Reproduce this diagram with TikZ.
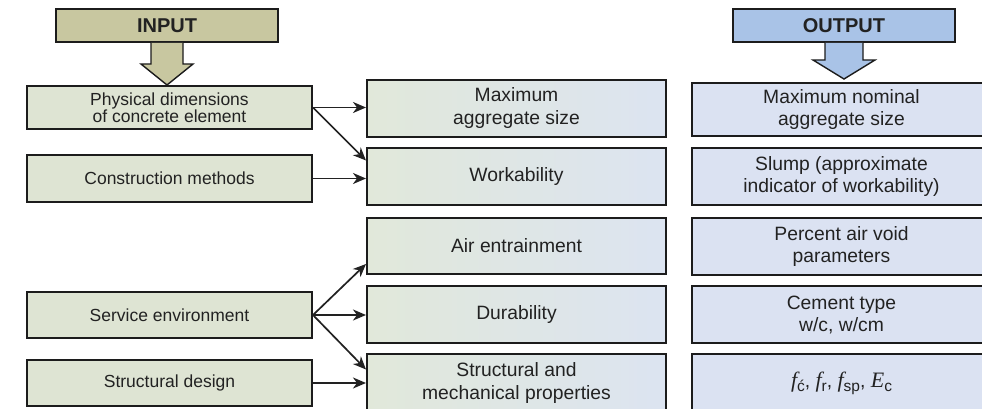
\documentclass[tikz,border=0pt]{standalone}
\usepackage{fontspec}
\setmainfont{Liberation Sans}
\newfontfamily\serifit{Liberation Serif}
\usetikzlibrary{arrows.meta,calc}

\definecolor{boxline}{HTML}{1C1C1C}
\definecolor{txt}{HTML}{222222}
\definecolor{arrowc}{HTML}{222222}
\definecolor{leftfill}{HTML}{DEE4D3}
\definecolor{inputfill}{HTML}{C8C7A0}
\definecolor{midL}{HTML}{E1E8DA}
\definecolor{midR}{HTML}{DCE4F1}
\definecolor{rightfill}{HTML}{DBE2F2}
\definecolor{outputfill}{HTML}{A9C3E7}

% italic serif letter with a lowered sans subscript
\newcommand\itsym[1]{{\serifit\itshape\fontsize{22}{22}\selectfont #1}}
\newcommand\lowsub[1]{\raisebox{-0.35ex}{\fontsize{15.5}{15.5}\selectfont #1}}

\begin{document}
\begin{tikzpicture}[x=1pt,y=-1pt,
  box/.style={draw=boxline, line width=2pt, anchor=north west, inner sep=0pt,
    align=center, text=txt},
  headbox/.style={box, minimum width=222pt, minimum height=33pt,
    font=\bfseries\fontsize{20}{22}\selectfont},
  inbox/.style={box, fill=leftfill, minimum width=285pt, minimum height=45pt,
    font=\fontsize{17.5}{17}\selectfont},
  midbox/.style={box, left color=midL, right color=midR, minimum width=299pt,
    minimum height=57pt, font=\fontsize{19.3}{23}\selectfont},
  outbox/.style={box, fill=rightfill, minimum width=299pt, minimum height=57pt,
    font=\fontsize{19.3}{22}\selectfont},
  link/.style={draw=arrowc, line width=1.7pt,
    -{Stealth[length=13pt,width=11pt,inset=4pt]}},
  blockarrow/.style={draw=boxline, line width=1.4pt, line join=miter}
]
\clip (0,0) rectangle (982,409);
\fill[white] (0,0) rectangle (982,409);

% headings
\node[headbox, fill=inputfill] (input) at (55,8) {INPUT};
\node[headbox, fill=outputfill] (output) at (732,8) {OUTPUT};

% input factors
\node[inbox, minimum height=43pt] (phys) at (26,85) {Physical dimensions\\of concrete element};
\node[inbox, minimum height=47pt] (constr) at (26,154) {Construction methods};
\node[inbox, minimum height=46pt] (serv) at (26,291) {Service environment};
\node[inbox, minimum height=46pt] (sdesign) at (26,359) {Structural design};

% concrete requirements
\node[midbox] (maxagg) at (366,79) {Maximum\\aggregate size};
\node[midbox] (work) at (366,147) {Workability};
\node[midbox, minimum height=56pt] (air) at (366,217) {Air entrainment};
\node[midbox] (dur) at (366,285) {Durability};
\node[midbox, minimum height=59pt] (struct) at (366,353) {Structural and\\mechanical properties};

% mix design outputs
\node[outbox, minimum height=53pt] (maxnom) at (691,82) {Maximum nominal\\aggregate size};
\node[outbox] (slump) at (691,147) {Slump (approximate\\indicator of workability)};
\node[outbox] (pct) at (691,217) {Percent air void\\parameters};
\node[outbox] (cement) at (691,285) {Cement type\\w/c, w/cm};
\node[outbox, minimum height=59pt] (fc) at (691,353)
  {\itsym{f}\lowsub{ć}, \itsym{f}\lowsub{r}, \itsym{f}\lowsub{sp}, \itsym{E}\lowsub{c}};

% block arrows under the headings
\coordinate (inTip) at (input.south |- phys.north);
\filldraw[blockarrow, fill=inputfill]
  ($(input.south)+(-16,0)$) -- ($(input.south)+(-16,21)$) -- ($(input.south)+(-26,21)$)
  -- (inTip) -- ($(input.south)+(26,21)$) -- ($(input.south)+(16,21)$)
  -- ($(input.south)+(16,0)$);
\coordinate (outTip) at ($(output.south |- maxnom.north)+(0,-3)$);
\filldraw[blockarrow, fill=outputfill]
  ($(output.south)+(-19,0)$) -- ($(output.south)+(-19,17)$) -- ($(output.south)+(-31,17)$)
  -- (outTip) -- ($(output.south)+(31,17)$) -- ($(output.south)+(19,17)$)
  -- ($(output.south)+(19,0)$);

% influences
\draw[link] (phys.east) -- (maxagg.west |- phys.east);
\draw[link] (phys.east) -- ([yshift=16pt]work.west);
\draw[link] (constr.east) -- (work.west |- constr.east);
\draw[link] (serv.east) -- ([yshift=-18pt]air.west);
\draw[link] (serv.east) -- (dur.west |- serv.east);
\draw[link] (serv.east) -- ([yshift=14pt]struct.west);
\draw[link] (sdesign.east) -- (struct.west |- sdesign.east);
\end{tikzpicture}
\end{document}
